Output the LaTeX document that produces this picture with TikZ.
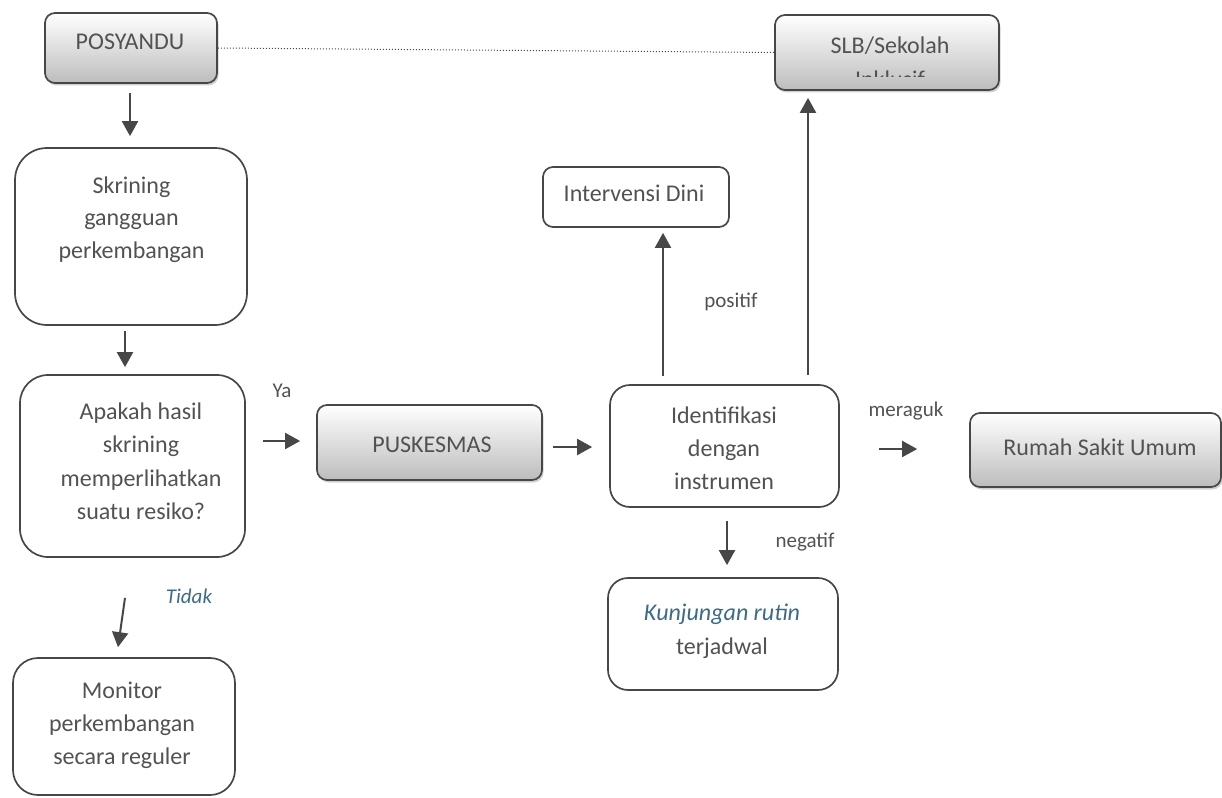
\documentclass[tikz,border=0pt]{standalone}
\usepackage{fontspec}
\setmainfont{Carlito}
\usetikzlibrary{arrows.meta,shadows,calc}
\definecolor{ln}{HTML}{474747}
\definecolor{tx}{HTML}{525252}
\definecolor{bl}{HTML}{3D6A88}
\begin{document}
\begin{tikzpicture}[x=1pt,y=-1pt,
 box/.style={draw=ln, line width=1.7pt, rounded corners=#1, inner sep=0pt},
 box/.default=10pt,
 gbox/.style={box=10pt, top color=white, middle color=black!6, bottom color=black!26,
   drop shadow={shadow xshift=1.5pt,shadow yshift=-2.5pt,opacity=0.3,fill=black!60}},
 txt/.style={text=tx, font=\fontsize{24}{33.5}\selectfont, align=center, inner sep=0pt, anchor=base},
 lab/.style={text=tx, font=\fontsize{21}{24}\selectfont, inner sep=0pt, anchor=base},
 arr/.style={draw=ln, line width=2pt, -{Triangle[length=15pt,width=16pt]}},
 dot/.style={draw=ln, line width=1pt, dotted},
]
\useasboundingbox (0,0) rectangle (1222,797);

% boxes
\node[gbox, minimum width=172pt, minimum height=70pt] (posy) at (131,48) {};
\node[gbox, minimum width=224pt, minimum height=75pt] (slb) at (887,52.5) {};
\node[box=32pt, minimum width=232pt, minimum height=177pt] (skr) at (131,236.5) {};
\node[box=28pt, minimum width=225pt, minimum height=182pt] (apk) at (132.5,466) {};
\node[box=25pt, minimum width=222pt, minimum height=137pt] (mon) at (124,726.5) {};
\node[gbox, minimum width=225pt, minimum height=75pt] (pusk) at (429.5,442.5) {};
\node[box=20pt, minimum width=229pt, minimum height=122pt] (ident) at (724.5,446) {};
\node[box=10pt, minimum width=186pt, minimum height=60pt] (interv) at (636,197) {};
\node[gbox, minimum width=251pt, minimum height=74pt] (rsu) at (1095.5,450) {};
\node[box=20pt, minimum width=230pt, minimum height=112pt] (kunj) at (723,634) {};

% texts (anchor base = baseline of the last line)
\node[txt] (posyt) at (130,50) {POSYANDU};
\begin{scope}
  \clip (775,15) rectangle (999,76.5);
  \node[txt] (slbt) at (890,87.5) {SLB/Sekolah\\Inklusif};
\end{scope}
\node[txt, font=\fontsize{24}{32.5}\selectfont] (skrt) at (131.5,258) {Skrining\\gangguan\\perkembangan};
\node[txt] (apkt) at (141,519.5) {Apakah hasil\\skrining\\memperlihatkan\\suatu resiko?};
\node[txt, font=\fontsize{24}{33}\selectfont] (mont) at (122,764) {Monitor\\perkembangan\\secara reguler};
\node[txt] (puskt) at (432,452) {PUSKESMAS};
\node[txt, font=\fontsize{24}{33}\selectfont] (identt) at (724,489) {Identifikasi\\dengan\\instrumen};
\node[txt] (intervt) at (634,201.5) {Intervensi Dini};
\node[txt] (rsut) at (1100,455) {Rumah Sakit Umum};
\node[txt, font=\fontsize{24}{34}\selectfont] (kunjt) at (722,654) {{\itshape\color{bl}Kunjungan rutin}\\terjadwal};

% labels
\node[lab] (ya) at (282,397) {Ya};
\node[lab] (pos) at (731,307) {positif};
\node[lab] (mer) at (906,416) {meraguk};
\node[lab] (neg) at (805,547) {negatif};
\node[lab, text=bl, font=\fontsize{21}{24}\selectfont\itshape] (tid) at (189,603) {Tidak};

% connectors
\draw[dot] (posy.east) -- (slb.west);
\draw[arr] ($(posy.south)+(-1,9)$) -- ($(skr.north)+(-1,-11)$);
\draw[arr] ($(skr.south)+(-6,5)$) -- ($(apk.north)+(-7.5,-7)$);
\draw[arr] ($(apk.south)+(-7.5,40)$) -- ($(mon.north)+(-6,-10)$);
\draw[arr] ($(apk.east)+(17,-25)$) -- ($(pusk.west)+(-16,-1.5)$);
\draw[arr] ($(pusk.east)+(10,4.5)$) -- ($(ident.west)+(-17,1)$);
\draw[arr] ($(ident.north)+(-61.5,-8)$) -- ($(interv.south)+(27,5)$);
\draw[arr] ($(ident.north)+(83.5,-9)$) -- ($(slb.south)+(-79,7)$);
\draw[arr] ($(ident.east)+(39,3)$) -- ($(rsu.west)+(-52,-1)$);
\draw[arr] ($(ident.south)+(2.5,13)$) -- ($(kunj.north)+(4,-12)$);
\end{tikzpicture}
\end{document}
